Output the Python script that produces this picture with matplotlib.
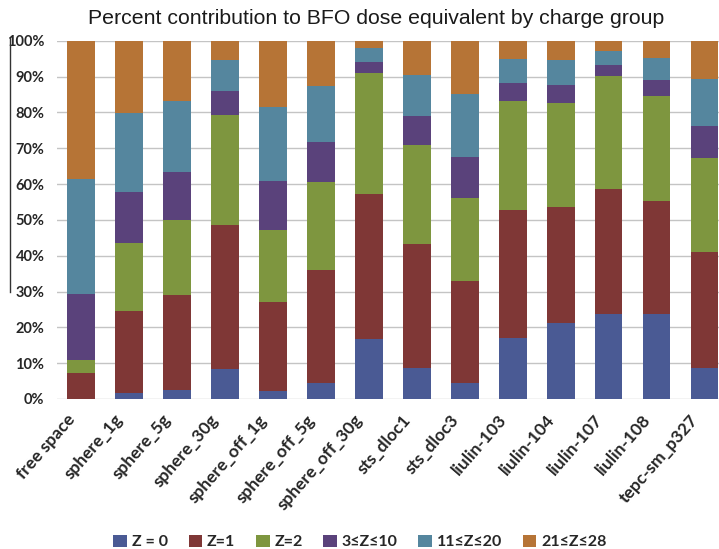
import matplotlib
matplotlib.use("Agg")
import matplotlib.pyplot as plt
import matplotlib.transforms as mtransforms
from matplotlib.patches import Patch
from matplotlib.lines import Line2D
import numpy as np

# Locations / detectors
categories = ["free space", "sphere_1g", "sphere_5g", "sphere_30g", "sphere_off_1g",
              "sphere_off_5g", "sphere_off_30g", "sts_dloc1", "sts_dloc3", "liulin-103",
              "liulin-104", "liulin-107", "liulin-108", "tepc-sm_p327"]

# Percent contribution per charge group (each column sums to 100)
z0      = [0.0, 1.7, 2.4, 8.5, 2.1, 4.5, 16.7, 8.7, 4.5, 17.1, 21.2, 23.7, 23.7, 8.7]
z1      = [7.2, 22.9, 26.5, 40.0, 25.1, 31.6, 40.5, 34.5, 28.5, 35.6, 32.3, 34.8, 31.6, 32.2]
z2      = [3.7, 18.8, 21.1, 30.8, 20.1, 24.6, 33.7, 27.6, 23.1, 30.6, 29.1, 31.7, 29.2, 26.4]
z3_10   = [18.3, 14.4, 13.3, 6.8, 13.6, 10.9, 3.2, 8.1, 11.5, 5.0, 5.1, 3.1, 4.5, 9.0]
z11_20  = [32.2, 22.1, 19.8, 8.5, 20.7, 15.8, 3.9, 11.6, 17.5, 6.7, 6.9, 3.9, 6.2, 12.9]
z21_28  = [38.6, 20.1, 16.9, 5.4, 18.4, 12.6, 2.0, 9.5, 14.9, 5.0, 5.4, 2.8, 4.8, 10.8]

series = [z0, z1, z2, z3_10, z11_20, z21_28]
series_labels = ["Z = 0", "Z=1", "Z=2", "3\u2264Z\u226410", "11\u2264Z\u226420", "21\u2264Z\u226428"]
colors = ["#4A5A94", "#7F3736", "#7E963F", "#5A427B", "#55869E", "#B67436"]
y_ticks = [0, 10, 20, 30, 40, 50, 60, 70, 80, 90, 100]

bold_font = ["Lato", "DejaVu Sans"]
text_color = "#262626"

W, H = 719, 549
fig = plt.figure(figsize=(W / 100, H / 100), dpi=100)
ax = fig.add_axes([57 / W, 1 - 399 / H, (728.5 - 57) / W, (399 - 40.7) / H])

x = np.arange(len(categories))
bottom = np.zeros(len(categories))
for vals, col, lab in zip(series, colors, series_labels):
    v = np.array(vals)
    ax.bar(x, v, bottom=bottom, width=0.58, color=col, label=lab, zorder=3,
           edgecolor="none")
    bottom += v

ax.set_xlim(-0.5, len(categories) - 0.5)
ax.set_ylim(0, 100)
ax.set_yticks(y_ticks)
ax.set_yticklabels([f"{t}%" for t in y_ticks], fontfamily=bold_font,
                   fontweight="bold", fontsize=10.5, color=text_color)
ax.tick_params(axis="y", length=0, pad=9)
ax.tick_params(axis="x", length=0, pad=13)
ax.grid(axis="y", color="#C4C4C4", linewidth=1.0, zorder=0)
for s in ax.spines.values():
    s.set_visible(False)

ax.set_xticks(x)
ax.set_xticklabels(categories, rotation=49, ha="right", va="center",
                   rotation_mode="anchor", fontfamily=bold_font,
                   fontweight="bold", fontsize=12.5, color=text_color)
shift = mtransforms.ScaledTranslation(-9 / 100, 0, fig.dpi_scale_trans)
for lbl in ax.get_xticklabels():
    lbl.set_transform(lbl.get_transform() + shift)

fig.text(376 / W, 1 - 18 / H, "Percent contribution to BFO dose equivalent by charge group",
         ha="center", va="center", fontfamily="Liberation Sans", fontsize=15.3,
         color="#1a1a1a")

# thin vertical rule at the left edge
fig.add_artist(Line2D([9.5 / W, 9.5 / W], [1 - 38 / H, 1 - 292 / H],
                      transform=fig.transFigure, color="#333333", linewidth=1.0))

handles = [Patch(facecolor=c, edgecolor="none", label=l) for c, l in zip(colors, series_labels)]
leg = fig.legend(handles=handles, loc="center", bbox_to_anchor=(360 / W, 1 - 542 / H),
                 ncol=6, frameon=False, handlelength=0.85, handleheight=0.85,
                 handletextpad=0.3, columnspacing=1.3,
                 prop={"family": bold_font, "weight": "bold", "size": 11.5})
for t in leg.get_texts():
    t.set_color(text_color)

fig.savefig("out.png", dpi=100)
